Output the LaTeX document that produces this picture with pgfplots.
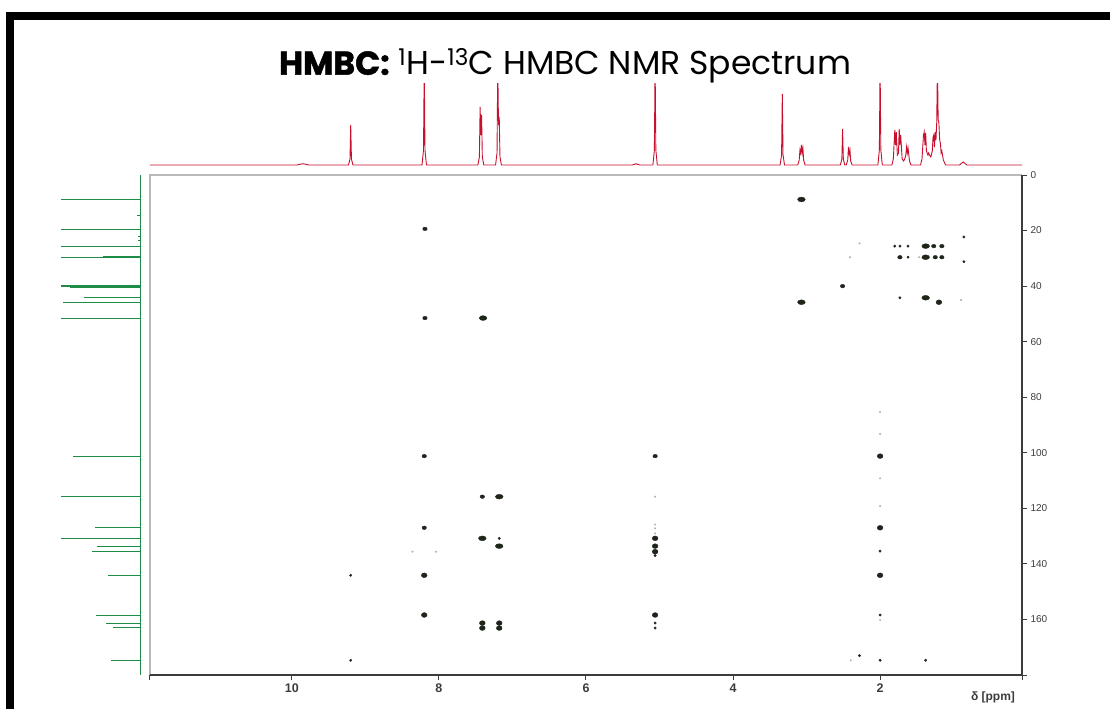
\documentclass[border=0pt]{standalone}
\usepackage{pgfplots}
\pgfplotsset{compat=1.18}
\usepackage{fontspec}
\setmainfont{Liberation Sans}
\newfontfamily\pop{Poppins}
\definecolor{nmrred}{RGB}{200,16,46}
\definecolor{nmrgreen}{RGB}{30,140,70}
\definecolor{dotc}{RGB}{30,38,28}
\definecolor{axdark}{RGB}{60,60,60}
\begin{document}
\begin{tikzpicture}[x=1pt,y=1pt]
\useasboundingbox (0,0) rectangle (1110,709);
% ---------- top 1H projection ----------
\begin{axis}[at={(150pt,541pt)}, anchor=south west, scale only axis,
  width=872pt, height=84pt, hide axis, clip=true,
  x dir=reverse, xmin=0.07, xmax=11.93, ymin=-3, ymax=81]
\addplot[nmrred, line width=0.9pt, sharp plot] coordinates {
(11.93,0) (9.93,0) (9.87,1) (9.85,1.2) (9.83,1) (9.77,0)
(9.23,0) (9.21,6) (9.20,40) (9.19,6) (9.17,0)
(8.23,0) (8.21,15) (8.20,100) (8.19,15) (8.17,0)
(7.47,0) (7.45,8) (7.44,58) (7.43,30) (7.42,50) (7.41,8) (7.39,0)
(7.23,0) (7.21,12) (7.20,100) (7.19,40) (7.18,48) (7.17,8) (7.15,0)
(5.37,0) (5.32,1.2) (5.27,0)
(5.09,0) (5.07,15) (5.06,100) (5.05,15) (5.03,0)
(3.36,0) (3.34,10) (3.33,71) (3.32,10) (3.30,0)
(3.12,0) (3.10,5) (3.09,15) (3.08,12) (3.07,20) (3.06,12) (3.05,17) (3.04,5) (3.02,0)
(2.54,0) (2.52,6) (2.51,36) (2.50,6) (2.48,0)
(2.46,0) (2.44,5) (2.43,18) (2.42,11) (2.41,15) (2.40,4) (2.38,0)
(2.03,0) (2.01,15) (2.00,100) (1.99,15) (1.97,0)
(1.84,0) (1.82,6) (1.80,35) (1.79,20) (1.78,33) (1.765,10) (1.75,12) (1.74,36) (1.73,20) (1.72,30) (1.70,6) (1.68,4)
(1.665,6) (1.65,10) (1.64,18) (1.63,12) (1.62,17) (1.60,4) (1.58,0)
(1.45,0) (1.43,6) (1.41,30) (1.40,33) (1.39,20) (1.38,32) (1.37,14) (1.35,10) (1.34,12) (1.33,10) (1.31,8)
(1.29,14) (1.28,28) (1.27,30) (1.26,18) (1.25,33) (1.24,25) (1.23,42) (1.22,100) (1.21,45) (1.20,42) (1.19,25)
(1.18,22) (1.17,12) (1.16,14) (1.14,5) (1.11,0)
(0.92,0) (0.87,3) (0.82,0) (0.07,0)
};
\end{axis}
% ---------- left 13C projection ----------
\begin{axis}[at={(58pt,34pt)}, anchor=south west, scale only axis,
  width=85pt, height=500pt, hide axis, clip=true,
  x dir=reverse, y dir=reverse, xmin=-3, xmax=82, ymin=0, ymax=180]
\addplot[nmrgreen, line width=1pt, xcomb] coordinates {
(79,8.8) (3,14.5) (79,19.5) (2,22.1) (2,23.7) (79,25.6) (79,25.9) (79,29.7) (37,29.4)
(79,39.6) (79,39.9) (79,40.2) (70,40.5) (56,44.1) (77,45.9) (79,51.5)
(67,101.2) (79,115.9) (45,127.0) (79,130.7) (43,133.6) (48,135.6) (32,144.0)
(44,158.4) (34,161.3) (27,163.0) (29,174.8)
};
\addplot[nmrgreen, line width=1pt] coordinates {(0,0) (0,180)};
\end{axis}
% ---------- main HMBC plot ----------
\begin{axis}[at={(150pt,34pt)}, anchor=south west, scale only axis,
  width=872pt, height=500pt, clip=false,
  x dir=reverse, y dir=reverse, xmin=0.07, xmax=11.93, ymin=0, ymax=180,
  axis line style={draw=none},
  tick align=outside, major tick length=5pt,
  tick style={color=axdark, line width=1pt},
  xtick pos=left, ytick pos=right,
  xticklabel pos=left, yticklabel pos=right,
  xtick={0.07,2,4,6,8,10,11.93}, xticklabels={,2,4,6,8,10,},
  ytick={0,20,40,60,80,100,120,140,160,180},
  yticklabels={0,20,40,60,80,100,120,140,160,},
  xticklabel style={font=\bfseries\fontsize{12.5}{14}\selectfont, text=axdark},
  yticklabel style={font=\fontsize{10}{12}\selectfont, text=axdark},
  ]
% large elongated
\addplot[only marks, mark=*, mark size=2.4pt, color=dotc, mark options={xscale=1.6}] coordinates {
(3.07,8.8) (3.07,45.8) (7.41,130.8) (7.18,133.6) (1.38,25.6) (1.38,29.6) (1.38,44.2) (7.40,51.5) (7.18,115.8)
};
% large round
\addplot[only marks, mark=*, mark size=2.4pt, color=dotc, mark options={xscale=1.2}] coordinates {
(1.20,45.8) (8.20,144.1) (5.06,130.8) (5.06,133.6) (5.06,135.6) (2.0,101.2) (2.0,127.0) (2.0,144.1)
(7.41,161.3) (7.41,163.1) (7.18,161.3) (7.18,163.1) (8.20,158.4) (5.06,158.4)
};
% medium
\addplot[only marks, mark=*, mark size=1.8pt, color=dotc, mark options={xscale=1.25}] coordinates {
(8.19,19.4) (8.19,51.5) (2.51,40.0) (8.20,101.2) (8.20,127.0) (7.41,115.8) (5.06,101.2)
(1.27,25.6) (1.16,25.6) (1.16,29.6) (1.73,29.6) (1.25,29.6)
};
% small
\addplot[only marks, mark=*, mark size=1.2pt, color=dotc] coordinates {
(9.20,144.1) (9.20,174.7) (1.80,25.6) (1.73,25.6) (1.62,25.6) (1.62,29.6) (0.86,22.3) (0.86,31.2)
(1.73,44.2) (5.06,161.3) (5.06,163.1) (2.0,135.4) (2.0,158.4) (2.0,174.7) (2.28,173.0) (1.38,174.7)
(7.18,130.8) (5.06,137.0)
};
% faint
\addplot[only marks, mark=*, mark size=0.8pt, color=gray!60] coordinates {
(2.28,24.6) (2.41,29.6) (1.47,29.6) (0.90,45.0) (8.36,135.6) (8.04,135.6) (5.06,115.8) (5.06,125.8)
(5.06,127.2) (5.06,129.0) (2.0,85.3) (2.0,93.2) (2.0,109.2) (2.0,119.2) (2.0,160.2) (2.40,174.7)
};
\end{axis}
% axis frame lines
\draw[gray!55, line width=1.6pt] (150,34) -- (150,534) -- (1022,534);
\draw[axdark, line width=1.5pt] (150,34) -- (1022,34);
\draw[axdark, line width=1.5pt] (1022,34) -- (1022,534);
% axis label
\node[font=\bfseries\fontsize{12}{14}\selectfont, text=axdark] at (993,12) {δ [ppm]};
% title
\node[font=\pop\fontsize{33}{38}\selectfont] at (565,643) {{\bfseries\addfontfeatures{FakeBold=1.5}HMBC:} \textsuperscript{1}H-\textsuperscript{13}C HMBC NMR Spectrum};
% outer black frame
\fill[black] (6,0) rectangle (14,697);
\fill[black] (6,689) rectangle (1110,697);
\end{tikzpicture}
\end{document}
